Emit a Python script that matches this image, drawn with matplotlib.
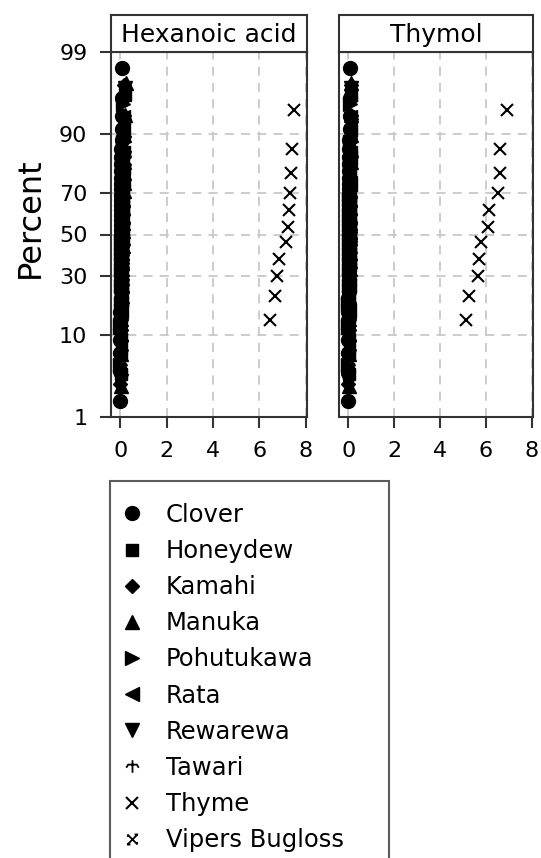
import matplotlib.pyplot as plt
from matplotlib.path import Path
from statistics import NormalDist
import numpy as np

# honey types in legend order
honeys = ["Clover", "Honeydew", "Kamahi", "Manuka", "Pohutukawa",
          "Rata", "Rewarewa", "Tawari", "Thyme", "Vipers Bugloss"]
panels = ["Hexanoic acid", "Thymol"]

# Hexanoic acid values per honey type
hex_clover = [0.00, 0.01, 0.01, 0.02, 0.02, 0.02, 0.03, 0.03, 0.01, 0.04,
              0.02, 0.03, 0.00, 0.04, 0.05, 0.02, 0.03, 0.01, 0.04, 0.05,
              0.03, 0.02, 0.06, 0.04, 0.01, 0.03, 0.05, 0.02, 0.04, 0.06,
              0.03, 0.05, 0.02, 0.04, 0.07, 0.03, 0.05, 0.06, 0.04, 0.08, 0.02]
hex_honeydew = [0.03, 0.06, 0.09, 0.05, 0.12, 0.08, 0.15, 0.10, 0.07, 0.13,
                0.18, 0.11, 0.04, 0.14, 0.09, 0.16, 0.21, 0.12]
hex_kamahi = [0.01, 0.03, 0.05, 0.02, 0.07, 0.04, 0.06, 0.09, 0.03, 0.08,
              0.05, 0.10, 0.07, 0.12, 0.04, 0.09, 0.06, 0.11, 0.08, 0.14,
              0.10, 0.13, 0.16, 0.07]
hex_manuka = [0.02, 0.05, 0.08, 0.04, 0.10, 0.07, 0.12, 0.06, 0.09, 0.14,
              0.11, 0.03, 0.08, 0.13, 0.16, 0.10, 0.05, 0.12, 0.18, 0.09,
              0.15, 0.11, 0.20, 0.14, 0.23, 0.17]
hex_pohutukawa = [0.00, 0.02, 0.04, 0.01, 0.06, 0.03, 0.05, 0.08, 0.04, 0.07,
                  0.10, 0.06, 0.09, 0.12]
hex_rata = [0.01, 0.03, 0.02, 0.05, 0.04, 0.07, 0.06, 0.09, 0.05, 0.11]
hex_rewarewa = [0.02, 0.04, 0.07, 0.05, 0.09, 0.03, 0.08, 0.11, 0.06, 0.10,
                0.13, 0.07, 0.12, 0.09, 0.15, 0.11, 0.14, 0.08, 0.17, 0.13,
                0.19, 0.16]
hex_tawari = [0.00, 0.02, 0.04, 0.03, 0.06, 0.05, 0.08, 0.04, 0.07, 0.10,
              0.06, 0.09, 0.12, 0.08, 0.11, 0.14]
hex_thyme = [0.05, 6.46, 6.67, 6.78, 6.85, 7.14, 7.23, 7.30, 7.33, 7.36, 7.42, 7.49]
hex_vipers = [0.01, 0.03, 0.05, 0.04, 0.07, 0.02, 0.06, 0.09, 0.05, 0.08,
              0.11, 0.07, 0.10, 0.06, 0.13, 0.09, 0.12, 0.15, 0.11, 0.17]

# Thymol values per honey type
thy_clover = [0.00, 0.01, 0.00, 0.02, 0.01, 0.02, 0.03, 0.01, 0.02, 0.03,
              0.00, 0.02, 0.04, 0.01, 0.03, 0.02, 0.04, 0.03, 0.01, 0.02,
              0.05, 0.03, 0.02, 0.04, 0.01, 0.03, 0.05, 0.02, 0.04, 0.03,
              0.06, 0.02, 0.04, 0.05, 0.03, 0.06, 0.04, 0.05, 0.07, 0.03, 0.06]
thy_honeydew = [0.02, 0.04, 0.06, 0.03, 0.08, 0.05, 0.09, 0.07, 0.04, 0.10,
                0.06, 0.11, 0.08, 0.05, 0.12, 0.07, 0.09, 0.13]
thy_kamahi = [0.01, 0.02, 0.04, 0.03, 0.05, 0.02, 0.06, 0.04, 0.07, 0.03,
              0.05, 0.08, 0.06, 0.04, 0.09, 0.07, 0.05, 0.10, 0.08, 0.06,
              0.11, 0.09, 0.07, 0.12]
thy_manuka = [0.02, 0.03, 0.05, 0.04, 0.06, 0.03, 0.07, 0.05, 0.08, 0.06,
              0.04, 0.09, 0.07, 0.05, 0.10, 0.08, 0.06, 0.11, 0.09, 0.07,
              0.12, 0.10, 0.08, 0.13, 0.11, 0.14]
thy_pohutukawa = [0.00, 0.01, 0.03, 0.02, 0.04, 0.01, 0.05, 0.03, 0.06, 0.04,
                  0.07, 0.05, 0.08, 0.10]
thy_rata = [0.01, 0.02, 0.04, 0.03, 0.05, 0.02, 0.06, 0.04, 0.07, 0.09]
thy_rewarewa = [0.01, 0.03, 0.05, 0.02, 0.06, 0.04, 0.07, 0.05, 0.03, 0.08,
                0.06, 0.09, 0.04, 0.07, 0.10, 0.08, 0.05, 0.11, 0.09, 0.06,
                0.12, 0.10]
thy_tawari = [0.00, 0.02, 0.03, 0.01, 0.04, 0.02, 0.05, 0.03, 0.06, 0.04,
              0.07, 0.05, 0.08, 0.06, 0.09, 0.11]
thy_thyme = [0.04, 5.15, 5.29, 5.68, 5.71, 5.79, 6.09, 6.16, 6.55, 6.60, 6.64, 6.92]
thy_vipers = [0.01, 0.02, 0.04, 0.03, 0.05, 0.02, 0.06, 0.04, 0.07, 0.03,
              0.08, 0.05, 0.09, 0.06, 0.10, 0.07, 0.11, 0.08, 0.12, 0.14]

pct_ticks = [1, 10, 30, 50, 70, 90, 99]
x_ticks = [0, 2, 4, 6, 8]

# custom markers for Tawari and Vipers Bugloss
tawari_mk = Path([(0, 1), (0, -1), (-1, -0.2), (-0.7, 0.3), (0.7, 0.3), (1, -0.2)],
                 [Path.MOVETO, Path.LINETO, Path.MOVETO, Path.LINETO, Path.LINETO, Path.LINETO])
vipers_mk = Path([(-1, -1), (1, 1), (-1, 1), (1, -1),
                  (0.4, 1), (1.1, 1), (-1.1, -1), (-0.4, -1),
                  (-1.1, 0.7), (-0.7, 0.7), (0.7, -0.7), (1.1, -0.7)],
                 [Path.MOVETO, Path.LINETO, Path.MOVETO, Path.LINETO,
                  Path.MOVETO, Path.LINETO, Path.MOVETO, Path.LINETO,
                  Path.MOVETO, Path.LINETO, Path.MOVETO, Path.LINETO])

styles = {
    "Clover": dict(marker="o", ms=10),
    "Honeydew": dict(marker="s", ms=8.5),
    "Kamahi": dict(marker="D", ms=7.5),
    "Manuka": dict(marker="^", ms=10),
    "Pohutukawa": dict(marker=">", ms=10),
    "Rata": dict(marker="<", ms=10),
    "Rewarewa": dict(marker="v", ms=10),
    "Tawari": dict(marker=tawari_mk, ms=9, mfc="none", mew=1.3),
    "Thyme": dict(marker="x", ms=9, mew=1.5),
    "Vipers Bugloss": dict(marker=vipers_mk, ms=8, mfc="none", mew=1.3),
}

data = {
    "Hexanoic acid": [hex_clover, hex_honeydew, hex_kamahi, hex_manuka, hex_pohutukawa,
                      hex_rata, hex_rewarewa, hex_tawari, hex_thyme, hex_vipers],
    "Thymol": [thy_clover, thy_honeydew, thy_kamahi, thy_manuka, thy_pohutukawa,
               thy_rata, thy_rewarewa, thy_tawari, thy_thyme, thy_vipers],
}

nd = NormalDist()
W, H = 541, 858
fig = plt.figure(figsize=(W / 100, H / 100), dpi=100)
frame_col = "#333333"

def fx(px):
    return px / W

def fy(py):
    return 1 - py / H

lefts = [111, 339]
widths = [196, 194]
top, bottom, strip_top = 52, 417, 15
zlim = (nd.inv_cdf(0.01), nd.inv_cdf(0.99))

axes = []
for k, name in enumerate(panels):
    ax = fig.add_axes([fx(lefts[k]), fy(bottom), widths[k] / W, (bottom - top) / H])
    order = list(range(len(honeys)))
    # draw Thyme last so the crosses sit on top
    order.remove(8)
    order.append(8)
    for i in order:
        vals = np.sort(np.array(data[name][i]))
        n = len(vals)
        p = (np.arange(1, n + 1) - 0.3) / (n + 0.4)
        z = [nd.inv_cdf(v) for v in p]
        ax.plot(vals, z, ls="none", color="black", mec="black",
                label=honeys[i], **styles[honeys[i]])
    ax.set_xlim(-0.4, 8.06)
    ax.set_ylim(*zlim)
    ax.set_xticks(x_ticks, [str(t) for t in x_ticks])
    ax.set_yticks([nd.inv_cdf(t / 100) for t in pct_ticks], [str(t) for t in pct_ticks])
    ax.tick_params(axis="both", length=8, width=1.5, color=frame_col,
                   labelsize=16, pad=9)
    if k > 0:
        ax.tick_params(axis="y", left=False, labelleft=False)
    ax.grid(True, ls=(0, (5, 4)), color="#c8c8c8", lw=1.3)
    ax.set_axisbelow(True)
    for s in ax.spines.values():
        s.set_color(frame_col)
        s.set_linewidth(1.5)
    axes.append(ax)

    st = fig.add_axes([fx(lefts[k]), fy(top), widths[k] / W, (top - strip_top) / H])
    st.set_xticks([])
    st.set_yticks([])
    for s in st.spines.values():
        s.set_color(frame_col)
        s.set_linewidth(1.5)
    st.text(0.5, 0.45, name, ha="center", va="center", fontsize=18, transform=st.transAxes)

fig.text(fx(30), fy(218), "Percent", rotation=90, fontsize=23, ha="center", va="center")

handles, labels = axes[0].get_legend_handles_labels()
lookup = dict(zip(labels, handles))
leg = fig.legend([lookup[h] for h in honeys], honeys, loc="upper left",
                 bbox_to_anchor=(fx(110), 0, 279 / W, fy(481)), mode="expand",
                 fontsize=17.5, frameon=True, fancybox=False, borderpad=0.9,
                 labelspacing=0.5, handlelength=0, handletextpad=1.4,
                 borderaxespad=0, markerscale=1.0)
leg.get_frame().set_edgecolor(frame_col)
leg.get_frame().set_linewidth(1.5)

fig.savefig("out.png", dpi=100)
